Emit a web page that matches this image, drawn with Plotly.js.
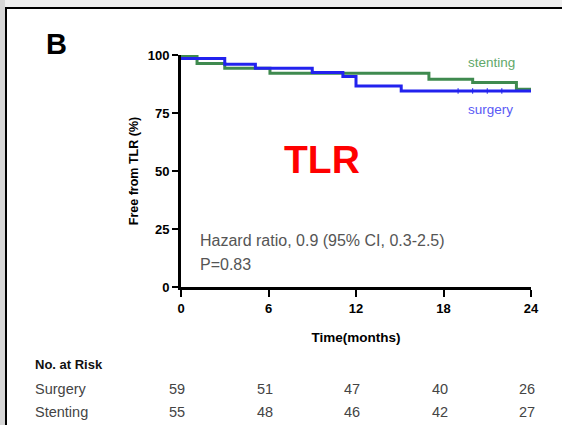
<!DOCTYPE html>
<html>
<head>
<meta charset="utf-8">
<script src="https://cdn.plot.ly/plotly-3.0.1.min.js"></script>
<style>html,body{margin:0;padding:0;background:#efefef;}#chart{width:562px;height:425px;}</style>
</head>
<body>
<div id="chart"></div>
<script>
// Kaplan-Meier step data (months, % free from TLR)
var surgeryTime = [0, 3, 5.1, 9, 11.1, 12, 15.1, 24];
var surgeryFree = [98.5, 96, 94.3, 92.5, 90.7, 86.6, 84.5, 84.5];
var stentingTime = [0, 1.1, 3, 6.1, 17, 20, 23, 24];
var stentingFree = [99.7, 96.3, 94.3, 92.1, 89.6, 88.1, 85.2, 85.2];
var surgeryCensorTime = [19, 20, 21, 22];
var surgeryCensorFree = [84.5, 84.5, 84.5, 84.5];

var riskTimes = [0, 6, 12, 18, 24];
var riskSurgery = [59, 51, 47, 40, 26];
var riskStenting = [55, 48, 46, 42, 27];
var xTicks = [0, 6, 12, 18, 24];
var yTicks = [0, 25, 50, 75, 100];

var W = 562, H = 425, L = 181, R = 31, T = 55, B = 138;
var pw = W - L - R, ph = H - T - B;
function px(x) { return (x - L) / pw; }
function py(y) { return (H - B - y) / ph; }

var blue = '#2222ee', green = '#3f8a4f';

var traces = [
  {x: stentingTime, y: stentingFree, mode: 'lines', line: {shape: 'hv', color: green, width: 3}, hoverinfo: 'skip'},
  {x: surgeryTime, y: surgeryFree, mode: 'lines', line: {shape: 'hv', color: blue, width: 3}, hoverinfo: 'skip'},
  {x: surgeryCensorTime, y: surgeryCensorFree, mode: 'markers', marker: {symbol: 'line-ns', size: 4, line: {color: blue, width: 1}}, hoverinfo: 'skip'}
];

var font = 'Liberation Sans, Arial, sans-serif';
var ann = [
  {text: '<b>B</b>', xref: 'paper', yref: 'paper', x: px(44), y: py(44), xanchor: 'left', yanchor: 'middle', showarrow: false, font: {family: font, size: 29, color: '#000'}},
  {text: '<b>TLR</b>', xref: 'paper', yref: 'paper', x: px(322), y: py(159), xanchor: 'center', yanchor: 'middle', showarrow: false, font: {family: font, size: 39, color: '#ff0000'}},
  {text: 'stenting', xref: 'paper', yref: 'paper', x: px(466), y: py(63), xanchor: 'left', yanchor: 'middle', showarrow: false, font: {family: font, size: 13.5, color: '#5fa86a'}},
  {text: 'surgery', xref: 'paper', yref: 'paper', x: px(466), y: py(109), xanchor: 'left', yanchor: 'middle', showarrow: false, font: {family: font, size: 13.5, color: '#5a5af5'}},
  {text: 'Hazard ratio, 0.9 (95% CI, 0.3-2.5)', xref: 'paper', yref: 'paper', x: px(198), y: py(240), xanchor: 'left', yanchor: 'middle', showarrow: false, font: {family: font, size: 16, color: '#555'}},
  {text: 'P=0.83', xref: 'paper', yref: 'paper', x: px(198), y: py(264), xanchor: 'left', yanchor: 'middle', showarrow: false, font: {family: font, size: 16, color: '#555'}},
  {text: '<b>No. at Risk</b>', xref: 'paper', yref: 'paper', x: px(33), y: py(364), xanchor: 'left', yanchor: 'middle', showarrow: false, font: {family: font, size: 13, color: '#111'}},
  {text: 'Surgery', xref: 'paper', yref: 'paper', x: px(33), y: py(389), xanchor: 'left', yanchor: 'middle', showarrow: false, font: {family: font, size: 14.5, color: '#444'}},
  {text: 'Stenting', xref: 'paper', yref: 'paper', x: px(33), y: py(412), xanchor: 'left', yanchor: 'middle', showarrow: false, font: {family: font, size: 14.5, color: '#444'}}
];
riskTimes.forEach(function (t, i) {
  ann.push({text: String(riskSurgery[i]), xref: 'x', yref: 'paper', x: t, xshift: -4, y: py(389), xanchor: 'center', yanchor: 'middle', showarrow: false, font: {family: font, size: 14.5, color: '#444'}});
  ann.push({text: String(riskStenting[i]), xref: 'x', yref: 'paper', x: t, xshift: -4, y: py(412), xanchor: 'center', yanchor: 'middle', showarrow: false, font: {family: font, size: 14.5, color: '#444'}});
});

var layout = {
  width: W, height: H,
  margin: {l: L, r: R, t: T, b: B, pad: 0},
  paper_bgcolor: '#efefef',
  plot_bgcolor: 'rgba(0,0,0,0)',
  showlegend: false,
  font: {family: font},
  xaxis: {
    range: [0, 24], tickvals: xTicks, ticktext: xTicks.map(String),
    showgrid: false, zeroline: false, showline: true, linecolor: '#000', linewidth: 3,
    ticks: 'outside', ticklen: 7, tickwidth: 2, tickcolor: '#000',
    tickfont: {family: font, size: 13, color: '#000', weight: 'bold'},
    title: {text: '<b>Time(months)</b>', font: {family: font, size: 13.5, color: '#000'}, standoff: 18},
    fixedrange: true
  },
  yaxis: {
    range: [0, 100], tickvals: yTicks, ticktext: yTicks.map(String),
    showgrid: false, zeroline: false, showline: true, linecolor: '#000', linewidth: 3,
    ticks: 'outside', ticklen: 6, tickwidth: 2, tickcolor: '#000',
    tickfont: {family: font, size: 13, color: '#000', weight: 'bold'},
    title: {text: '<b>Free from TLR (%)</b>', font: {family: font, size: 12.5, color: '#000'}, standoff: 7},
    fixedrange: true
  },
  shapes: [
    {type: 'rect', xref: 'paper', yref: 'paper', x0: px(0), x1: px(5), y0: py(500), y1: py(0), fillcolor: '#d6d6d6', line: {width: 0}, layer: 'below'},
    {type: 'rect', xref: 'paper', yref: 'paper', x0: px(6), x1: px(600), y0: py(500), y1: py(8), fillcolor: '#ffffff', line: {color: '#000', width: 2}, layer: 'below'}
  ],
  annotations: ann
};

Plotly.newPlot('chart', traces, layout, {displayModeBar: false, staticPlot: true});
</script>
</body>
</html>
